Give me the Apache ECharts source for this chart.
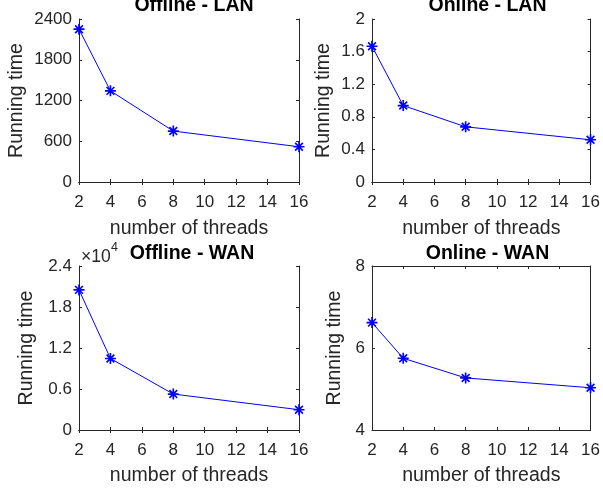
<!DOCTYPE html>
<html>
<head>
<meta charset="utf-8">
<script src="https://cdn.jsdelivr.net/npm/echarts@6/dist/echarts.min.js"></script>
<style>
html, body { margin: 0; padding: 0; background: #fff; }
#main { width: 603px; height: 490px; }
</style>
</head>
<body>
<div id="main"></div>
<script>
// threads on the x axis
var threads = [2, 4, 8, 16]
var xTicks = [2, 4, 6, 8, 10, 12, 14, 16]
// running times
var offlineLan = [2250, 1342, 750, 519]
var onlineLan = [1.666, 0.938, 0.677, 0.518]
var offlineWan = [20500, 10470, 5260, 2970]
var onlineWan = [6.62, 5.75, 5.27, 5.03]
var titles = ['Offline - LAN', 'Online - LAN', 'Offline - WAN', 'Online - WAN']

var FONT = '"Liberation Sans", Arial, Helvetica, sans-serif'
var AX = '#262626'
var star = 'path://M0 8.5L20 8.5L20 11.5L0 11.5Z M8.5 0L11.5 0L11.5 20L8.5 20Z ' +
  'M1.9 4L4 1.9L18.1 16L16 18.1Z M16 1.9L18.1 4L4 18.1L1.9 16Z'

var grids = [
  { left: 79, top: 19, width: 220, height: 163 },
  { left: 372, top: 19, width: 221, height: 163 },
  { left: 79, top: 266, width: 220, height: 164 },
  { left: 372, top: 266, width: 221, height: 164 }
]
var yConf = [
  { min: 0, max: 2400, interval: 600, gap: 52, fmt: function (v) { return String(v) } },
  { min: 0, max: 2, interval: 0.4, gap: 38, fmt: function (v) { return String(+v.toFixed(2)) } },
  { min: 0, max: 24000, interval: 6000, gap: 42, fmt: function (v) { return String(+(v / 10000).toFixed(2)) } },
  { min: 4, max: 8, interval: 2, gap: 27, fmt: function (v) { return String(v) } }
]
var xGap = [37, 37, 36, 36]
var seriesData = [offlineLan, onlineLan, offlineWan, onlineWan]

var xAxis = []
var yAxis = []
var series = []
var title = []
grids.forEach(function (g, i) {
  var line = { show: true, lineStyle: { color: AX, width: 1 } }
  var tick = { show: true, inside: true, length: 3, lineStyle: { color: AX } }
  xAxis.push({
    gridIndex: i, type: 'value', min: 2, max: 16, interval: 2,
    name: 'number of threads', nameLocation: 'middle', nameGap: xGap[i],
    nameTextStyle: { fontFamily: FONT, fontSize: 19.5, color: AX },
    axisLine: line, axisTick: tick, splitLine: { show: false },
    axisLabel: { fontFamily: FONT, fontSize: 17, color: AX, margin: 12 }
  })
  xAxis.push({
    gridIndex: i, type: 'value', position: 'top', min: 2, max: 16, interval: 2,
    axisLine: line, axisTick: tick, splitLine: { show: false }, axisLabel: { show: false }
  })
  var c = yConf[i]
  yAxis.push({
    gridIndex: i, type: 'value', min: c.min, max: c.max, interval: c.interval,
    name: 'Running time', nameLocation: 'middle', nameGap: c.gap,
    nameTextStyle: { fontFamily: FONT, fontSize: 19.5, color: AX },
    axisLine: line, axisTick: tick, splitLine: { show: false },
    axisLabel: { fontFamily: FONT, fontSize: 17, color: AX, margin: 7, formatter: c.fmt }
  })
  yAxis.push({
    gridIndex: i, type: 'value', position: 'right', min: c.min, max: c.max, interval: c.interval,
    axisLine: line, axisTick: tick, splitLine: { show: false }, axisLabel: { show: false }
  })
  series.push({
    type: 'line', xAxisIndex: i * 2, yAxisIndex: i * 2,
    data: threads.map(function (t, k) { return [t, seriesData[i][k]] }),
    symbol: star, symbolSize: 11,
    lineStyle: { color: '#0000ff', width: 1 },
    itemStyle: { color: '#0000ff' },
    animation: false
  })
  title.push({
    text: titles[i], textAlign: 'center',
    left: g.left + g.width / 2 + (i === 2 ? -2 : 0),
    top: i < 2 ? -9 : 239,
    textStyle: { fontFamily: FONT, fontSize: 19.5, fontWeight: 'bold', color: '#000' }
  })
})
// exponent label of the Offline - WAN y axis
title.push({
  text: '×10', left: 76, top: 243,
  textStyle: { fontFamily: FONT, fontSize: 17.5, fontWeight: 'normal', color: AX }
})
title.push({
  text: '4', left: 106, top: 236,
  textStyle: { fontFamily: FONT, fontSize: 12.5, fontWeight: 'normal', color: AX }
})

var myChart = echarts.init(document.getElementById('main'))
myChart.setOption({
  backgroundColor: '#fff',
  animation: false,
  title: title,
  grid: grids,
  xAxis: xAxis,
  yAxis: yAxis,
  series: series
})
</script>
</body>
</html>
